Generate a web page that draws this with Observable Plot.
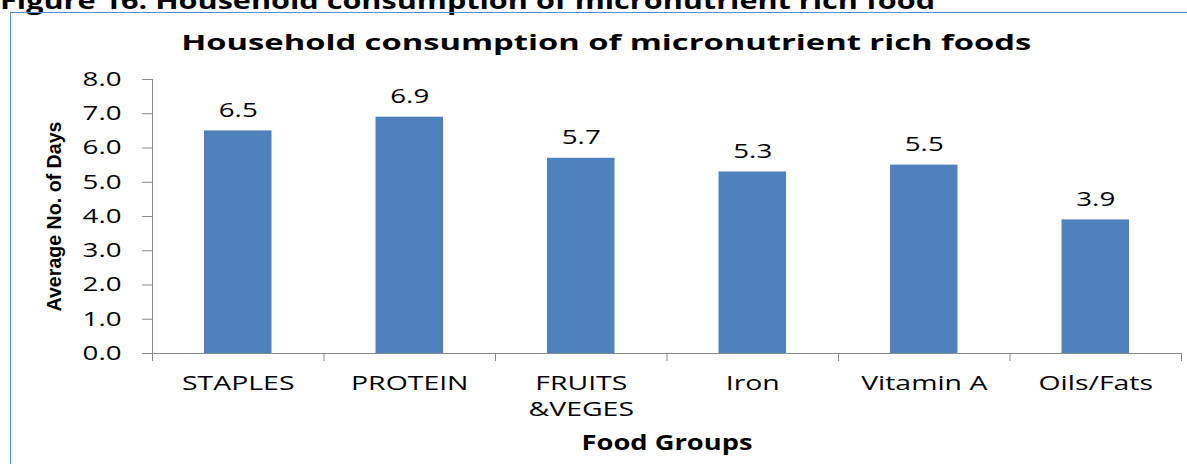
<!DOCTYPE html>
<html>
<head>
<meta charset="utf-8">
<script src="https://cdn.jsdelivr.net/npm/d3@7"></script>
<script src="https://cdn.jsdelivr.net/npm/@observablehq/plot@0.6"></script>
<style>
  html, body { margin: 0; padding: 0; background: #fff; }
  body { width: 1187px; height: 464px; overflow: hidden; position: relative; font-family: "Open Sans", sans-serif; }
  #header { position: absolute; left: 0; top: -17px; height: 24px; line-height: 24px; font: bold 24px "Open Sans", sans-serif; white-space: nowrap; color: #000; }
  #header span { display: inline-block; transform-origin: 0 50%; }
  #frame { position: absolute; left: 10px; top: 12px; width: 1220px; height: 520px; border: 1.5px solid #5b8cc8; box-sizing: border-box; }
  #title { position: absolute; left: 0; top: 27px; width: 1212px; text-align: center; line-height: 21px; height: 21px; font: bold 21.5px "Open Sans", sans-serif; white-space: nowrap; color: #000; }
  #title span { display: inline-block; transform-origin: 50% 50%; }
  #chart { position: absolute; left: 0; top: 62px; }
</style>
</head>
<body>
<div id="header"><span>Figure 16: Household consumption of micronutrient rich food</span></div>
<div id="frame"></div>
<div id="title"><span>Household consumption of micronutrient rich foods</span></div>
<div id="chart"></div>
<script>
// ---- data ----
const categories = ["STAPLES", "PROTEIN", "FRUITS\n&VEGES", "Iron", "Vitamin A", "Oils/Fats"];
const values = [6.5, 6.9, 5.7, 5.3, 5.5, 3.9];
const yTicks = [0, 1, 2, 3, 4, 5, 6, 7, 8];
const chartTitle = "Household consumption of micronutrient rich foods";
const xLabel = "Food Groups";
const yLabel = "Average No. of Days";

const data = categories.map((c, i) => ({c, i, v: values[i]}));
const boundaries = d3.range(categories.length + 1);

const font = "Open Sans";
const plot = Plot.plot({
  width: 1187,
  height: 402,
  marginLeft: 152,
  marginRight: 6,
  marginTop: 17,
  marginBottom: 111,
  style: {fontFamily: font, background: "transparent", color: "#000"},
  x: {domain: [0, categories.length], axis: null},
  y: {domain: [0, 8], axis: null},
  marks: [
    Plot.rectY(data, {x1: d => d.i, x2: d => d.i + 1, y: "v", fill: "#4f81bd", insetLeft: 52, insetRight: 52}),
    Plot.axisY({ticks: yTicks, label: null, tickSize: 10, tickPadding: 21, tickFormat: d => d.toFixed(1),
      stroke: "#8a8a8a", fill: "#000", fontSize: 19.5, fontFamily: font}),
    Plot.axisX({ticks: boundaries, label: null, tickSize: 8, tickFormat: () => "", stroke: "#8a8a8a"}),
    Plot.ruleX([0], {stroke: "#8a8a8a"}),
    Plot.ruleY([0], {stroke: "#8a8a8a"}),
    Plot.text(data, {x: d => d.i + 0.5, y: "v", text: d => d.v.toFixed(1), lineAnchor: "bottom",
      dy: -14, fontSize: 19.5, fill: "#000", fontFamily: font}),
    Plot.text(data, {x: d => d.i + 0.5, text: "c", frameAnchor: "bottom", lineAnchor: "top",
      dy: 18, fontSize: 20, lineHeight: 1.3, fill: "#000", fontFamily: font}),
    Plot.text([xLabel], {frameAnchor: "bottom", lineAnchor: "bottom", dy: 96, fontSize: 21,
      fontWeight: "bold", fill: "#000", fontFamily: font}),
    Plot.text([yLabel], {frameAnchor: "left", rotate: -90, dx: -98, fontSize: 20.5, fontWeight: "bold",
      fill: "#000", fontFamily: "Liberation Sans Narrow, Liberation Sans, sans-serif"})
  ]
});
document.getElementById("chart").appendChild(plot);

// stretch text horizontally to mimic the reference picture's wide lettering
const K = 1.42;
plot.querySelectorAll("text").forEach(t => {
  if (t.textContent === yLabel) {
    // rotated label: set its length along its own direction, anchored explicitly at its centre
    const want = 190;
    t.setAttribute("text-anchor", "start");
    t.setAttribute("x", -want / 2);
    t.setAttribute("textLength", want);
    t.setAttribute("lengthAdjust", "spacingAndGlyphs");
    return;
  }
  const spans = t.querySelectorAll("tspan");
  const els = spans.length ? Array.from(spans) : [t];
  els.forEach(el => {
    const L = el.getComputedTextLength();
    if (!(L > 0)) return;
    const want = el.textContent === xLabel ? 171 : L * K;
    el.setAttribute("textLength", want);
    el.setAttribute("lengthAdjust", "spacingAndGlyphs");
  });
});

function stretch(sel, width) {
  const s = document.querySelector(sel);
  const w = s.getBoundingClientRect().width;
  s.style.transform = `scaleX(${width / w})`;
}
stretch("#title span", 850);
stretch("#header span", 935);
</script>
</body>
</html>
